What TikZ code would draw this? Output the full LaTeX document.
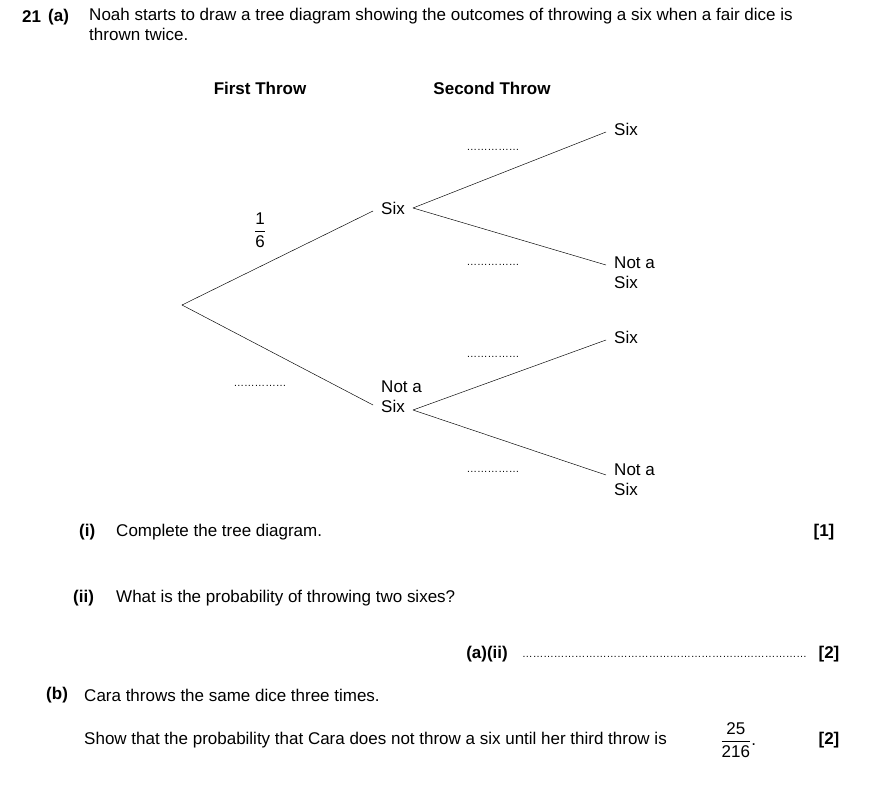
\documentclass[tikz,border=0pt]{standalone}
\usepackage{amsmath}
\usepackage{fontspec}
\setmainfont{Liberation Sans}
\usetikzlibrary{positioning}
\newcommand{\sfrac}[2]{$\dfrac{\mbox{#1}}{\mbox{#2}}$}
\begin{document}
\begin{tikzpicture}[x=0.03cm, y=-0.03cm, line cap=round]
	\tikzset{
		txt/.style={font=\fontsize{14.5}{17}\selectfont, inner sep=0pt},
		head/.style={txt, font=\fontsize{14.5}{17}\selectfont\bfseries},
		outcome/.style={txt, align=left, anchor=west},
		blank/.style={txt, font=\fontsize{9}{10}\selectfont},
		branch/.style={thin}
	}
	\useasboundingbox (0,0) rectangle (870,796);
	
	% question
	\node[head, anchor=west] (qno) at (22,17) {21};
	\node[head, anchor=west] (qa) at (48,17) {(a)};
	\node[txt, anchor=north west, align=left] (intro) at (89,8)
		{Noah starts to draw a tree diagram showing the outcomes of throwing a six when a fair dice is\\thrown twice.};
	
	% headings
	\node[head] (first) at (260,88) {First Throw};
	\node[head] (second) at (492,88) {Second Throw};
	
	% tree nodes
	\coordinate (root) at (182,305);
	\node[outcome] (six) at (381,208) {Six};
	\node[outcome] (notsix) at (381,397) {Not a\\Six};
	\node[outcome] (ss) at (614,129) {Six};
	\node[outcome] (sn) at (614,273) {Not a\\Six};
	\node[outcome] (ns) at (614,337) {Six};
	\node[outcome] (nn) at (614,480) {Not a\\Six};
	
	% branches
	\draw[branch] (root) -- (373,211);
	\draw[branch] (root) -- (373,405);
	\draw[branch] (413,208) -- (606,132);
	\draw[branch] (413,208) -- (606,265);
	\draw[branch] (413,410) -- (606,340);
	\draw[branch] (413,410) -- (606,475);
	
	% probabilities
	\node[txt] (p1) at (260,230) {\sfrac{1}{6}};
	\node[blank] (p2) at (260,386) {\dots\dots\dots\dots\dots};
	\node[blank] (p3) at (493,150) {\dots\dots\dots\dots\dots};
	\node[blank] (p4) at (493,265) {\dots\dots\dots\dots\dots};
	\node[blank] (p5) at (493,357) {\dots\dots\dots\dots\dots};
	\node[blank] (p6) at (493,472) {\dots\dots\dots\dots\dots};
	
	% parts
	\node[head, anchor=west] (qi) at (79,532) {(i)};
	\node[txt, anchor=west] (ti) at (116,532) {Complete the tree diagram.};
	\node[head] (mi) at (824,532) {[1]};
	\node[head, anchor=west] (qii) at (73,598) {(ii)};
	\node[txt, anchor=west] (tii) at (116,598) {What is the probability of throwing two sixes?};
	\node[head, anchor=east] (aii) at (508,654) {(a)(ii)};
	\node[blank, anchor=west] (lii) at (522,657) {\dots\dots\dots\dots\dots\dots\dots\dots\dots\dots\dots\dots\dots\dots\dots\dots\dots\dots\dots\dots\dots\dots\dots\dots\dots\dots\dots};
	\node[head] (mii) at (829,654) {[2]};
	\node[head, anchor=west] (qb) at (46,695) {(b)};
	\node[txt, anchor=west] (tb1) at (84,695) {Cara throws the same dice three times.};
	\node[txt, anchor=west] (tb2) at (84,740) {Show that the probability that Cara does not throw a six until her third throw is};
	\node[txt, anchor=west] (fb) at (720,740) {\sfrac{25}{216}.};
	\node[head] (mb) at (829,740) {[2]};
\end{tikzpicture}
\end{document}
